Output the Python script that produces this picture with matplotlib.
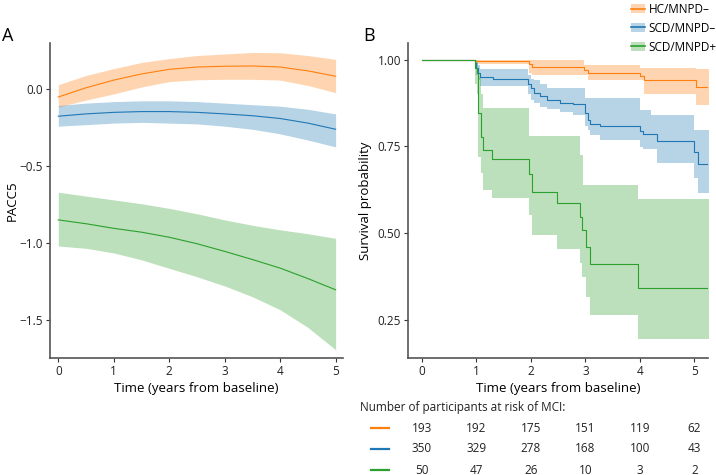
import matplotlib.pyplot as plt
import matplotlib.transforms as mtransforms
from matplotlib.lines import Line2D
from matplotlib.patches import Patch

plt.rcParams['font.family'] = ['Open Sans', 'DejaVu Sans']

# --- panel A: PACC5 trajectories (mean + 95% CI) ---
years = [0, 0.5, 1, 1.5, 2, 2.5, 3, 3.5, 4, 4.5, 5]

hc_mean = [-0.05, 0.01, 0.06, 0.10, 0.13, 0.145, 0.15, 0.152, 0.145, 0.12, 0.085]
hc_hi = [0.03, 0.09, 0.135, 0.175, 0.20, 0.22, 0.23, 0.24, 0.238, 0.22, 0.195]
hc_lo = [-0.115, -0.07, -0.03, 0.015, 0.05, 0.062, 0.065, 0.065, 0.06, 0.025, -0.022]

scdn_mean = [-0.175, -0.16, -0.15, -0.145, -0.145, -0.15, -0.16, -0.172, -0.19, -0.22, -0.26]
scdn_hi = [-0.105, -0.09, -0.08, -0.075, -0.075, -0.08, -0.09, -0.10, -0.11, -0.13, -0.16]
scdn_lo = [-0.24, -0.23, -0.22, -0.215, -0.22, -0.225, -0.24, -0.26, -0.29, -0.33, -0.375]

scdp_mean = [-0.85, -0.875, -0.905, -0.93, -0.963, -1.005, -1.055, -1.108, -1.164, -1.232, -1.305]
scdp_hi = [-0.67, -0.695, -0.72, -0.745, -0.775, -0.81, -0.85, -0.885, -0.915, -0.94, -0.97]
scdp_lo = [-1.02, -1.035, -1.065, -1.11, -1.165, -1.22, -1.28, -1.35, -1.435, -1.55, -1.695]

# --- panel B: Kaplan-Meier survival (step values + CI) ---
hc_t = [0, 0.98, 1.97, 2.02, 2.98, 3.05, 4.0, 4.08, 5.02, 5.26]
hc_s = [1.0, 0.995, 0.987, 0.979, 0.969, 0.96, 0.953, 0.942, 0.92, 0.92]
hc_s_hi = [1.0, 1.0, 1.0, 1.0, 0.985, 0.984, 0.976, 0.975, 0.972, 0.972]
hc_s_lo = [1.0, 0.987, 0.96, 0.957, 0.957, 0.94, 0.94, 0.90, 0.869, 0.869]

scdn_t = [0, 0.98, 1.0, 1.03, 1.07, 1.31, 1.95, 2.0, 2.05, 2.17, 2.29, 2.54, 2.78,
          3.0, 3.05, 3.09, 3.27, 4.0, 4.05, 4.2, 4.31, 5.0, 5.07, 5.26]
scdn_s = [1.0, 0.99, 0.975, 0.96, 0.95, 0.945, 0.931, 0.917, 0.905, 0.895, 0.885, 0.876, 0.872,
          0.845, 0.826, 0.816, 0.81, 0.795, 0.786, 0.785, 0.765, 0.734, 0.70, 0.70]
scdn_s_hi = [1.0, 1.0, 0.995, 0.985, 0.974, 0.974, 0.955, 0.945, 0.94, 0.93, 0.917, 0.917, 0.917,
             0.888, 0.888, 0.888, 0.888, 0.854, 0.854, 0.84, 0.84, 0.797, 0.797, 0.797]
scdn_s_lo = [1.0, 0.975, 0.955, 0.94, 0.925, 0.925, 0.90, 0.883, 0.875, 0.864, 0.857, 0.85, 0.84,
             0.81, 0.797, 0.782, 0.768, 0.749, 0.744, 0.744, 0.703, 0.66, 0.617, 0.617]

scdp_t = [0, 0.98, 1.02, 1.04, 1.08, 1.12, 1.28, 1.96, 2.02, 2.48, 2.9, 2.93, 2.96, 3.02, 3.09, 3.97, 5.26]
scdp_s = [1.0, 0.975, 0.96, 0.845, 0.778, 0.739, 0.715, 0.672, 0.62, 0.588, 0.548, 0.511, 0.511,
          0.462, 0.412, 0.342, 0.342]
scdp_s_hi = [1.0, 1.0, 0.99, 0.95, 0.90, 0.86, 0.86, 0.78, 0.78, 0.78, 0.725, 0.725, 0.64, 0.64,
             0.64, 0.60, 0.60]
scdp_s_lo = [1.0, 0.93, 0.90, 0.72, 0.673, 0.626, 0.603, 0.553, 0.495, 0.455, 0.414, 0.375, 0.375,
             0.318, 0.265, 0.195, 0.195]

# number at risk table
risk_years = [0, 1, 2, 3, 4, 5]
hc_risk = [193, 192, 175, 151, 119, 62]
scdn_risk = [350, 329, 278, 168, 100, 43]
scdp_risk = [50, 47, 26, 10, 3, 2]

group_names = ['HC/MNPD\u2013', 'SCD/MNPD\u2013', 'SCD/MNPD+']
colors = ['#ff7f0e', '#1f77b4', '#2ca02c']
band_alpha = 0.32

fig = plt.figure(figsize=(7.16, 4.75), dpi=100)
ax_a = fig.add_axes([0.0698, 0.246, 0.409, 0.663])
ax_b = fig.add_axes([0.570, 0.246, 0.419, 0.663])

# panel A
groups_a = [(hc_mean, hc_lo, hc_hi), (scdn_mean, scdn_lo, scdn_hi), (scdp_mean, scdp_lo, scdp_hi)]
for (m, lo, hi), c in zip(groups_a, colors):
    ax_a.fill_between(years, lo, hi, color=c, alpha=band_alpha, linewidth=0)
    ax_a.plot(years, m, color=c, linewidth=0.8)

ax_a.set_xlim(-0.15, 5.13)
ax_a.set_ylim(-1.75, 0.30)
ax_a.set_xticks([0, 1, 2, 3, 4, 5])
ax_a.set_yticks([0.0, -0.5, -1.0, -1.5])
ax_a.set_yticklabels(['0.0', '\u22120.5', '\u22121.0', '\u22121.5'])
ax_a.set_ylabel('PACC5', fontsize=9.5)
ax_a.yaxis.set_label_coords(-0.105, 0.5)
ax_a.set_xlabel('Time (years from baseline)', fontsize=9.5, labelpad=3)

# panel B
groups_b = [(hc_t, hc_s, hc_s_lo, hc_s_hi), (scdn_t, scdn_s, scdn_s_lo, scdn_s_hi),
            (scdp_t, scdp_s, scdp_s_lo, scdp_s_hi)]
for (t, s, lo, hi), c in zip(groups_b, colors):
    ax_b.fill_between(t, lo, hi, step='post', color=c, alpha=band_alpha, linewidth=0)
    ax_b.step(t, s, where='post', color=c, linewidth=0.8)

ax_b.set_xlim(-0.25, 5.25)
ax_b.set_ylim(0.141, 1.047)
ax_b.set_xticks([0, 1, 2, 3, 4, 5])
ax_b.set_yticks([0.25, 0.50, 0.75, 1.00])
ax_b.set_yticklabels(['0.25', '0.50', '0.75', '1.00'])
ax_b.set_ylabel('Survival probability', fontsize=9.5, labelpad=4)
ax_b.set_xlabel('Time (years from baseline)', fontsize=9.5, labelpad=3)

for ax in (ax_a, ax_b):
    ax.spines['top'].set_visible(False)
    ax.spines['right'].set_visible(False)
    for side in ('left', 'bottom'):
        ax.spines[side].set_color('#555555')
        ax.spines[side].set_linewidth(1.2)
    ax.tick_params(axis='both', labelsize=8.5, length=3, width=0.8, color='#333333',
                   labelcolor='#222222', pad=2)

fig.text(0.003, 0.925, 'A', fontsize=13, va='center', ha='left')
fig.text(0.508, 0.925, 'B', fontsize=13, va='center', ha='left')

# legend
handles = [(Patch(facecolor=c, alpha=band_alpha, linewidth=0), Line2D([], [], color=c, lw=1.2))
           for c in colors]
fig.legend(handles, group_names, loc='upper left', bbox_to_anchor=(0.874, 1.004),
           frameon=False, fontsize=8.5, handlelength=1.2, handleheight=0.8,
           handletextpad=0.35, labelspacing=0.5, borderaxespad=0)

# number at risk table
fig.text(0.503, 1 - 407 / 475, 'Number of participants at risk of MCI:', fontsize=8.5,
         va='center', ha='left', color='#222222')
trans = mtransforms.blended_transform_factory(ax_b.transData, fig.transFigure)
row_y = [1 - 428 / 475, 1 - 449 / 475, 1 - 470 / 475]
for counts, c, y in zip([hc_risk, scdn_risk, scdp_risk], colors, row_y):
    fig.add_artist(Line2D([371.5 / 716, 389 / 716], [y, y], color=c, lw=1.6,
                          transform=fig.transFigure))
    for x, n in zip(risk_years, counts):
        fig.text(x, y, str(n), transform=trans, fontsize=8.5, ha='center', va='center',
                 color='#222222')

fig.savefig('out.png', dpi=100)
